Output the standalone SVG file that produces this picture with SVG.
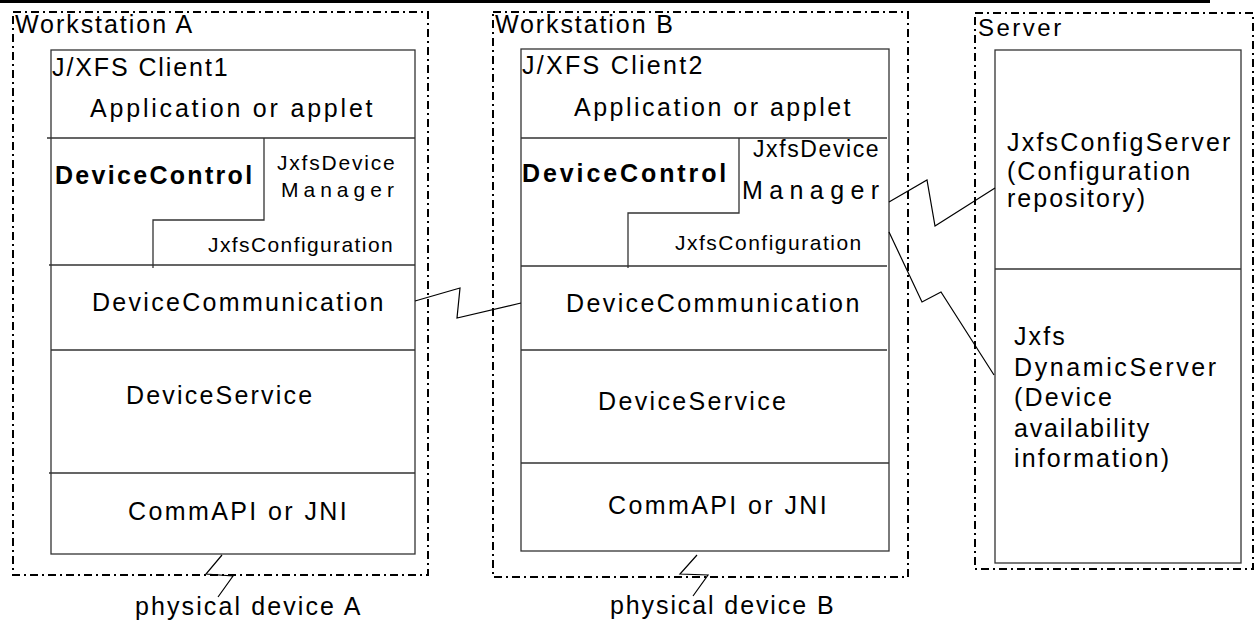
<svg xmlns="http://www.w3.org/2000/svg" width="1255" height="625" viewBox="0 0 1255 625">
<style>
.t{font-family:"Liberation Sans",Arial,Helvetica,sans-serif;font-size:25px;fill:#000}
.b{font-weight:bold}
.s21{font-size:21px}
.s23{font-size:23px}
.box{fill:none;stroke:#333;stroke-width:1.3}
.ln{fill:none;stroke:#333;stroke-width:1.3}
.dd{fill:none;stroke:#000;stroke-width:2;stroke-dasharray:8 4 2 4}
.cn{fill:none;stroke:#000;stroke-width:1.2}
</style>
<rect x="0" y="0" width="1210" height="3" fill="#000"/>

<g id="workstationA">
<rect class="dd" x="13" y="12" width="415" height="563"/>
<text class="t" x="15" y="33" letter-spacing="1.95">Workstation A</text>
<rect class="box" x="51" y="50" width="364" height="504"/>
<path class="ln" d="M47 138H415M49 265H415M51 350H415M49 473H415M264 138V220H153V268"/>
<text class="t" x="52" y="76" letter-spacing="1.9">J/XFS Client1</text>
<text class="t" x="90" y="117" letter-spacing="2.8">Application or applet</text>
<text class="t b" x="55" y="184" letter-spacing="2.3">DeviceControl</text>
<text class="t s21" x="277" y="170" letter-spacing="1.8">JxfsDevice</text>
<text class="t s21" x="281" y="197" letter-spacing="5">Manager</text>
<text class="t s21" x="208" y="252" letter-spacing="1.4">JxfsConfiguration</text>
<text class="t" x="92" y="311" letter-spacing="2.3">DeviceCommunication</text>
<text class="t" x="126" y="404" letter-spacing="2.2">DeviceService</text>
<text class="t" x="128" y="520" letter-spacing="2.4">CommAPI or JNI</text>
<text class="t" x="135" y="615" letter-spacing="2.1">physical device A</text>
</g>

<g id="workstationB">
<rect class="dd" x="493" y="12" width="415" height="565"/>
<text class="t" x="495" y="33" letter-spacing="1.9">Workstation B</text>
<rect class="box" x="521" y="49" width="368" height="502"/>
<path class="ln" d="M521 138H887M521 266H887M521 350H887M521 463H889M739 138V213H628V268"/>
<text class="t" x="522" y="74" letter-spacing="2.3">J/XFS Client2</text>
<text class="t" x="574" y="116" letter-spacing="2.5">Application or applet</text>
<text class="t b" x="522" y="182" letter-spacing="2.9">DeviceControl</text>
<text class="t s23" x="753" y="157" letter-spacing="1.6">JxfsDevice</text>
<text class="t" x="742" y="199" letter-spacing="6.4">Manager</text>
<text class="t s21" x="675" y="250" letter-spacing="1.5">JxfsConfiguration</text>
<text class="t" x="566" y="312" letter-spacing="2.4">DeviceCommunication</text>
<text class="t" x="598" y="410" letter-spacing="2.35">DeviceService</text>
<text class="t" x="608" y="514" letter-spacing="2.4">CommAPI or JNI</text>
<text class="t" x="610" y="614" letter-spacing="1.9">physical device B</text>
</g>

<g id="server">
<rect class="dd" x="975" y="13" width="278" height="556"/>
<text class="t" x="978" y="36" style="font-size:24px" letter-spacing="2.5">Server</text>
<rect class="box" x="995" y="50" width="246" height="513"/>
<path class="ln" d="M995 269H1241"/>
<text class="t" x="1007" y="151" letter-spacing="2.2">JxfsConfigServer</text>
<text class="t" x="1007" y="180" letter-spacing="2">(Configuration</text>
<text class="t" x="1007" y="207" letter-spacing="2">repository)</text>
<text class="t" x="1014" y="345" letter-spacing="2.1">Jxfs</text>
<text class="t" x="1014" y="376" letter-spacing="2.6">DynamicServer</text>
<text class="t" x="1014" y="406" letter-spacing="2.2">(Device</text>
<text class="t" x="1014" y="437" letter-spacing="1.8">availability</text>
<text class="t" x="1014" y="467" letter-spacing="2.1">information)</text>
</g>

<g id="connectors">
<polyline class="cn" points="222,555 206,574 233,576 218,597"/>
<polyline class="cn" points="697,555 680,574 708,575 693,596"/>
<polyline class="cn" points="415,301 460,288 457,318 521,303"/>
<polyline class="cn" points="889,202 927,180 935,226 995,188"/>
<polyline class="cn" points="889,232 922,302 941,292 994,375"/>
</g>
</svg>
